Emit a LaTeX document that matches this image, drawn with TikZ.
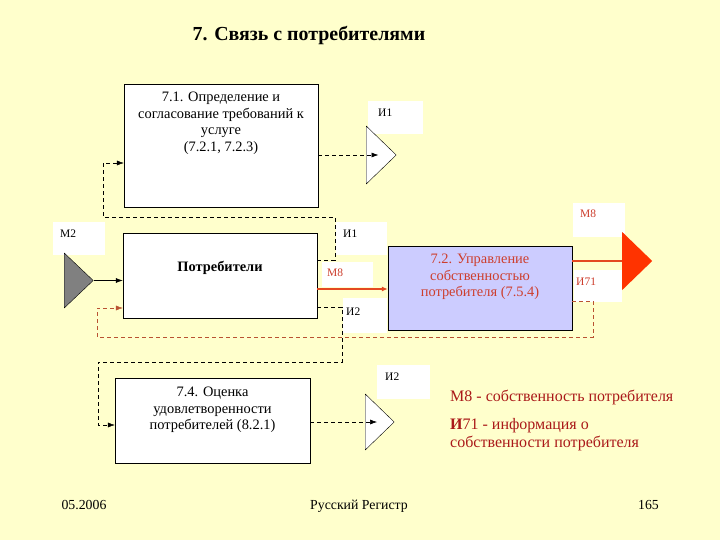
\documentclass[tikz,border=0pt]{standalone}
\usepackage{fontspec}
\setmainfont{Liberation Serif}
\usetikzlibrary{shapes.geometric,arrows.meta,positioning,calc}
\definecolor{slidebg}{RGB}{255,255,204}
\definecolor{lavender}{RGB}{204,204,255}
\definecolor{redtext}{RGB}{205,62,45}
\definecolor{legendred}{RGB}{170,25,25}
\definecolor{flowred}{RGB}{228,72,32}
\definecolor{tipred}{RGB}{255,51,0}
\definecolor{loopred}{RGB}{185,82,50}

\begin{document}
\begin{tikzpicture}[
            x=1pt, y=-1pt,
            box/.style={rectangle, draw, fill=white, inner sep=0pt},
            boxtext/.style={align=center, inner sep=0pt, font=\fontsize{14.4}{16.7}\selectfont},
            tag/.style={inner sep=0pt, anchor=base west, font=\fontsize{11.5}{13}\selectfont},
            tri/.style={isosceles triangle, isosceles triangle stretches, draw, inner sep=0pt, anchor=west},
            dasharrow/.style={dash pattern=on 4pt off 3pt, -{Latex[length=7pt,width=5pt]}},
            legend/.style={inner sep=0pt, anchor=base west, text=legendred, align=left, font=\fontsize{16}{18}\selectfont},
            foot/.style={inner sep=0pt, anchor=base, font=\fontsize{13.8}{16}\selectfont}
        ]
            \useasboundingbox (0,0) rectangle (720,540);
            \fill[slidebg] (0,0) rectangle (720,540);

            % Title
            \node[anchor=base, inner sep=0pt, font=\fontsize{19.9}{22}\bfseries] (title) at (309,41) {7. Связь с потребителями};

            % White label fields
            \fill[white] (368,101) rectangle (423,134);
            \fill[white] (573,203) rectangle (625,237);
            \fill[white] (53,222) rectangle (105,255);
            \fill[white] (336,222) rectangle (387,255);
            \fill[white] (322,262) rectangle (373,287);
            \fill[white] (574,270) rectangle (622,302);
            \fill[white] (343,298) rectangle (387,333);
            \fill[white] (377,365) rectangle (430,399);

            % Blocks
            \node[box, minimum width=194pt, minimum height=123pt] (b71) at (221,145.5) {};
            \node[box, minimum width=194pt, minimum height=85pt] (pot) at (220,275.5) {};
            \node[box, fill=lavender, minimum width=184pt, minimum height=84pt] (b72) at (480,288) {};
            \node[box, minimum width=195pt, minimum height=85pt] (b74) at (212.5,420.5) {};

            \node[boxtext, below=8pt of b71.north] (t71) {7.1. Определение и\\согласование требований  к\\услуге\\(7.2.1, 7.2.3)};
            \node[boxtext, below=28pt of pot.north, font=\fontsize{14.4}{16.7}\bfseries] (tpot) {Потребители};
            \node[boxtext, below=8pt of b72.north, text=redtext] (t72) {7.2. Управление\\собственностью\\потребителя (7.5.4)};
            \node[boxtext, below=9pt of b74.north] (t74) {7.4. Оценка\\удовлетворенности\\потребителей (8.2.1)};

            % Triangles
            \node[tri, fill=white, minimum width=58pt, minimum height=30pt] (tI1) at (366,155) {};
            \node[tri, fill=gray, minimum width=55pt, minimum height=29pt] (tM2) at (64,280.5) {};
            \node[tri, draw=none, fill=tipred, minimum width=58pt, minimum height=30pt] (tM8) at (622,261) {};
            \node[tri, fill=white, minimum width=56pt, minimum height=29pt] (tI2) at (365,422) {};

            % Labels
            \node[tag] (lI1a) at (378,117) {И1};
            \node[tag, text=redtext] (lM8a) at (580,218) {М8};
            \node[tag] (lM2) at (60,237) {М2};
            \node[tag] (lI1b) at (343,237) {И1};
            \node[tag, text=redtext] (lM8b) at (327,276) {М8};
            \node[tag, text=redtext] (lI71) at (576,285) {И71};
            \node[tag] (lI2a) at (346,315) {И2};
            \node[tag] (lI2b) at (385,380) {И2};

            % Connectors
            \draw[dasharrow, semithick] (b71.east |- tI1.west) -- (tI1.center);
            \draw[dasharrow] (pot.east |- 0,260) -| (335,217) -| (103,163) -- (b71.west |- 0,163);
            \draw[semithick, -{Latex[length=7pt,width=5pt]}] (tM2.apex) -- (pot.west |- tM2.apex);
            \draw[flowred, line width=1.6pt, -{Latex[length=6pt,width=5pt]}] (pot.east |- 0,289) -- (b72.west |- 0,289);
            \draw[flowred, line width=2pt] (b72.east |- tM8.west) -- (tM8.west);
            \draw[dasharrow, loopred] (b72.east |- 0,301) -| (593,337) -| (97,308) -- (pot.west |- 0,308);
            \draw[dasharrow] (pot.east |- 0,307) -| (342,362) -| (98,425) -- (b74.west |- 0,425);
            \draw[dasharrow, semithick] (b74.east |- tI2.west) -- (tI2.center);

            % Legend
            \node[legend] (leg1) at (450,401) {М8 - собственность потребителя};
            \node[legend] (leg2) at (450,429) {\textbf{И}71 - информация о};
            \node[legend] (leg3) at (450,447) {собственности потребителя};

            % Footer
            \node[foot] (date) at (84,509) {05.2006};
            \node[foot] (org) at (359,509) {Русский Регистр};
            \node[foot] (page) at (648.5,509) {165};
        \end{tikzpicture}
\end{document}
